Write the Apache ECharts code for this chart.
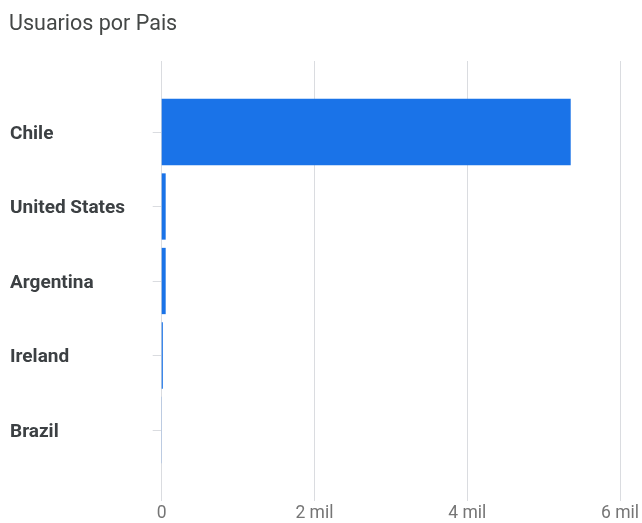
<!DOCTYPE html>
<html>
<head>
<meta charset="utf-8">
<script src="https://cdn.jsdelivr.net/npm/echarts@6/dist/echarts.min.js"></script>
<style>
html,body{margin:0;padding:0;background:#fff;}
#chart{width:642px;height:523px;}
</style>
</head>
<body>
<div id="chart"></div>
<script>
var titleText = "Usuarios por Pais";
var categories = ["Chile", "United States", "Argentina", "Ireland", "Brazil"];
var usuarios = [5335, 52, 52, 15, 2];
var xTicks = [0, 2000, 4000, 6000];
var xTickLabels = ["0", "2 mil", "4 mil", "6 mil"];

var chart = echarts.init(document.getElementById('chart'));
var xMin = xTicks[0], xMax = xTicks[xTicks.length - 1], xStep = xTicks[1] - xTicks[0];
function fmt(v){ var i = xTicks.indexOf(v); return i >= 0 ? xTickLabels[i] : ''; }

chart.setOption({
  animation: false,
  textStyle: { fontFamily: 'Roboto' },
  title: {
    text: titleText, left: 4, top: 9,
    textStyle: { fontFamily: 'Roboto', fontSize: 21.5, fontWeight: 'normal', color: '#444746' }
  },
  grid: [
    { left: 161.7, right: 20.3, top: 61, bottom: 21 },
    { left: 161.7, right: 20.3, top: 94.75, bottom: 55.75 }
  ],
  xAxis: [
    {
      gridIndex: 0, type: 'value', min: xMin, max: xMax, interval: xStep,
      axisLine: { show: false }, axisTick: { show: false },
      splitLine: { show: true, lineStyle: { color: '#dadce0', width: 1 } },
      axisLabel: { formatter: fmt, color: '#757575', fontSize: 17.5, margin: 4, fontFamily: 'Roboto' }
    },
    {
      gridIndex: 1, type: 'value', min: xMin, max: xMax, interval: xStep, show: false,
      splitLine: { show: false }
    }
  ],
  yAxis: [
    {
      gridIndex: 0, type: 'category', data: categories, show: false
    },
    {
      gridIndex: 1, type: 'category', data: categories, inverse: true,
      axisLine: { show: false },
      axisTick: { show: true, alignWithLabel: true, length: 9, lineStyle: { color: '#dadce0' } },
      axisLabel: { align: 'left', verticalAlign: 'top', lineHeight: 4, margin: 151.7, color: '#3c4043', fontSize: 19, fontWeight: 'bold', fontFamily: 'Roboto' },
      splitLine: { show: false }
    }
  ],
  series: [{
    type: 'bar', xAxisIndex: 1, yAxisIndex: 1,
    data: usuarios,
    barCategoryGap: '11%',
    itemStyle: { color: '#1a73e8' }
  }]
});
</script>
</body>
</html>
